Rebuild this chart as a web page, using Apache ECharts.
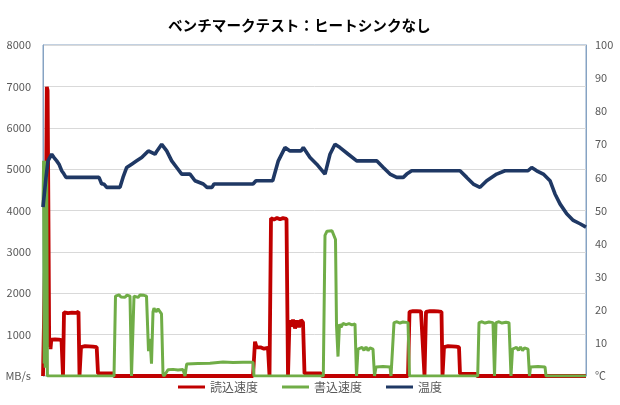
<!DOCTYPE html>
<html>
<head>
<meta charset="utf-8">
<script src="https://cdn.jsdelivr.net/npm/echarts@6/dist/echarts.min.js"></script>
<style>
html,body{margin:0;padding:0;background:#fff;}
#chart{width:620px;height:405px;}
</style>
</head>
<body>
<div id="chart"></div>
<script>
// time axis (arbitrary sample units)
var titleText = 'ベンチマークテスト：ヒートシンクなし';
var seriesNames = ['読込速度', '書込速度', '温度'];
var leftTicks = [0, 1000, 2000, 3000, 4000, 5000, 6000, 7000, 8000];
var rightTicks = [0, 10, 20, 30, 40, 50, 60, 70, 80, 90, 100];
var timeMax = 543;

// read speed (MB/s): [time, value]
var readData = [
  [0,0],[2,0],[3,4000],[3.8,6990],[4.6,6900],[5.4,4000],[6.2,700],[6.8,860],[7.5,650],[8.3,880],[10,860],[12,885],[14,860],[16,880],[18.5,870],[20,0],
  [21,1540],[23,1570],[25,1520],[27,1560],[29,1530],[31,1565],[33,1525],[35.5,1550],[36.5,0],
  [38,700],[40,680],[42,720],[44,690],[46,715],[48,685],[50,710],[53.7,700],[55,60],[70,60],[71,0],
  [210,0],[212,830],[213.5,700],[215,670],[218,690],[221,660],[225,680],[226.5,0],
  [228,3810],[231,3780],[234,3820],[237,3790],[240,3815],[243.5,3800],[245,0],
  [246.5,1350],[248,1200],[250,1360],[252,1150],[254,1340],[256,1180],[258,1350],[260,1300],[261.5,60],[278,60],[279,0],
  [365,0],[366.5,1550],[368,1520],[370,1570],[372,1530],[374,1565],[376,1525],[378,1560],[380,1550],[381.5,0],
  [383,1550],[385,1520],[387,1570],[389,1530],[391,1565],[393,1525],[395,1560],[398.5,1550],[399.5,0],
  [401,700],[403,680],[405,720],[407,690],[409,715],[411,685],[413,710],[416,700],[417,50],[433,50],[434,0],
  [543,0]
];

// write speed (MB/s): [time, value]
var writeData = [
  [0,4100],[0.6,5200],[1.2,300],[1.7,5200],[2.2,200],[2.7,5150],[3.2,400],[3.7,5000],[4.4,0],
  [71,0],[72.5,1930],[74,1900],[76,1960],[78,1910],[80,1950],[82,1905],[84,1955],[87,1930],[88.5,0],
  [91,1930],[93,1960],[95,1900],[97,1955],[99,1910],[101,1950],[103.5,1930],[105.5,600],[107,900],[108.5,300],
  [110,1550],[111,1640],[113,1550],[115,1620],[118.5,1500],[120,50],[121,0],
  [125,150],[130,160],[135,145],[140,155],[142,0],[143.7,290],[155,300],[167,310],[168,330],[180,340],[190,325],[200,335],[210,330],[211,0],
  [280.3,0],[282,3400],[284,3500],[286,3545],[289,3510],[291,3470],[292.5,3300],[293.5,1230],[295,470],[296.5,1250],
  [298,1180],[300,1270],[303,1240],[306,1265],[309,1235],[312,1260],[313.5,0],
  [315,650],[317,610],[319,690],[321,620],[323,700],[325,615],[327,680],[330,650],[331.5,0],
  [333,220],[340,230],[347,220],[348,0],
  [351,1290],[354,1310],[357,1280],[360,1305],[365,1290],[366.5,0],
  [434.7,0],[436,1290],[439,1310],[442,1280],[446,1305],[450,1290],[451.5,0],
  [453,1290],[456,1310],[459,1280],[463,1300],[466,1290],[468,0],
  [469.5,650],[471.5,610],[473.5,690],[475.5,620],[477.5,700],[479.5,615],[481.5,680],[485,650],[486.5,0],
  [487.5,220],[495,230],[502,220],[503,0],[543,0]
];

// temperature (°C): [time, value]
var tempData = [
  [0,51],[1,51],[3,60],[5,65],[8.7,67],[11,66],[13.7,65],[16,64],[18.7,62],[21,61],[23,60],[56,60],[58.7,58],[61,58],[63.7,57],[77,57],
  [80,60],[83.7,63],[88.7,64],[93.7,65],[98.7,66],[102,67],[105.3,68],[107,68],[112,67],[114,68],[118.7,70],[120,70],[123.7,68],
  [128.7,65],[133.7,63],[138.7,61],[147,61],[152,59],[160.3,58],[164,57],[169,57],[171,58],[210,58],[213,59],[229.7,59],
  [235.3,65],[242,69],[247,68],[258,68],[260.3,69],[267,66],[273.7,64],[282,61],[287,67],[292,70],[297,69],[305.3,67],[313.7,65],
  [333.7,65],[340.3,63],[347,61],[353.7,60],[358,60],[360.3,60],[363.7,61],[368.7,62],[417,62],[423.7,60],[430.3,58],[437,57],
  [443.7,59],[453.7,61],[462,62],[485,62],[488.7,63],[493.7,62],[500.3,61],[507,59],[512,55],[517,52],[523.7,49],[530.3,47],[537,46],[543,45]
];

var colors = ['#C00000', '#70AD47', '#1F3864'];
var frameColor = '#86A3C3';
var labelColor = '#595959';
var font = '"Noto Sans CJK JP", "Noto Sans", sans-serif';

var chart = echarts.init(document.getElementById('chart'), null, {renderer: 'canvas'});
chart.setOption({
  animation: false,
  backgroundColor: '#ffffff',
  title: {
    text: titleText,
    left: 163,
    top: 13,
    textStyle: {fontFamily: font, fontSize: 14.6, fontWeight: 'bold', color: '#000000'}
  },
  legend: {
    data: seriesNames,
    bottom: 7,
    left: 'center',
    icon: 'rect',
    itemWidth: 27,
    itemHeight: 3,
    itemGap: 24,
    textStyle: {fontFamily: font, fontSize: 12, color: labelColor}
  },
  grid: {
    left: 43, right: 34, top: 45, bottom: 29,
    show: true, borderColor: frameColor, borderWidth: 1, backgroundColor: 'transparent'
  },
  xAxis: {
    type: 'value', min: 0, max: timeMax,
    axisLine: {show: false}, axisTick: {show: false}, axisLabel: {show: false}, splitLine: {show: false}
  },
  yAxis: [
    {
      type: 'value', min: leftTicks[0], max: leftTicks[leftTicks.length - 1], interval: 1000,
      axisLine: {show: true, lineStyle: {color: frameColor}},
      axisTick: {show: false},
      splitLine: {show: true, lineStyle: {color: '#D9D9D9', width: 1}},
      axisLabel: {
        margin: 12, color: labelColor, fontFamily: font, fontSize: 11,
        formatter: function (v) { return v === 0 ? 'MB/s' : String(v); }
      }
    },
    {
      type: 'value', min: rightTicks[0], max: rightTicks[rightTicks.length - 1], interval: 10,
      position: 'right',
      axisLine: {show: true, lineStyle: {color: frameColor}},
      axisTick: {show: false},
      splitLine: {show: false},
      axisLabel: {
        margin: 9, color: labelColor, fontFamily: font, fontSize: 11,
        formatter: function (v) { return v === 0 ? '℃' : String(v); }
      }
    }
  ],
  series: [
    {name: seriesNames[0], type: 'line', yAxisIndex: 0, data: readData, showSymbol: false, symbol: 'none',
     lineStyle: {color: colors[0], width: 3.8}, itemStyle: {color: colors[0]}},
    {name: seriesNames[1], type: 'line', yAxisIndex: 0, data: writeData, showSymbol: false, symbol: 'none',
     lineStyle: {color: colors[1], width: 3}, itemStyle: {color: colors[1]}},
    {name: seriesNames[2], type: 'line', yAxisIndex: 1, data: tempData, showSymbol: false, symbol: 'none',
     lineStyle: {color: colors[2], width: 3.6}, itemStyle: {color: colors[2]}}
  ]
});
</script>
</body>
</html>
